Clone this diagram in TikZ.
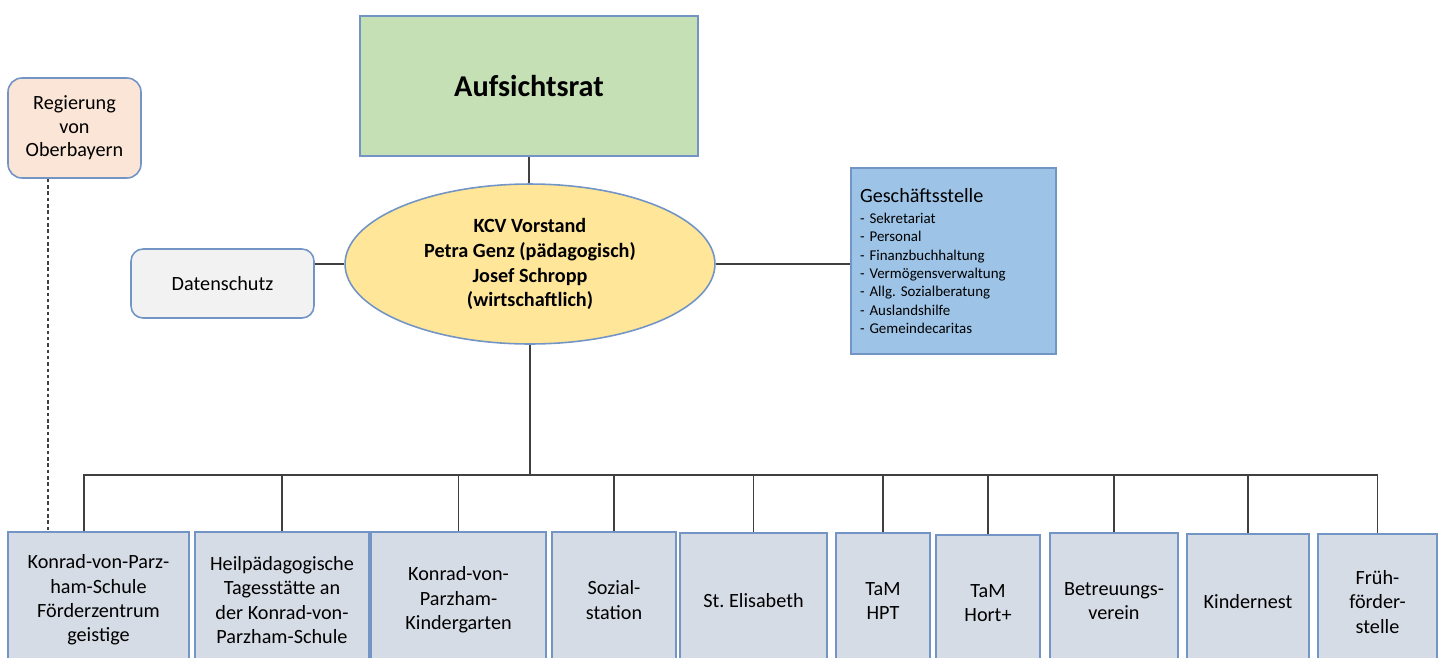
\documentclass[tikz,border=0pt]{standalone}
\usepackage{fontspec}
\setmainfont{Carlito}
\usetikzlibrary{shapes.geometric}
\frenchspacing

\definecolor{rahmen}{HTML}{7295C6}
\definecolor{liniengrau}{HTML}{404040}
\definecolor{gruen}{HTML}{C5E0B4}
\definecolor{pfirsich}{HTML}{FBE5D6}
\definecolor{gelb}{HTML}{FFE699}
\definecolor{hellblau}{HTML}{9DC3E6}
\definecolor{hellgrau}{HTML}{F2F2F2}
\definecolor{einheitblau}{HTML}{D6DCE5}

\begin{document}
\begin{tikzpicture}[x=0.02cm,y=-0.02cm,
    box/.style={draw=rahmen,line width=0.9pt,align=center,inner sep=2pt,
      font=\fontsize{11.5}{13.9}\selectfont},
    einheit/.style={box,fill=einheitblau,minimum height=2.72cm},
    linie/.style={draw=liniengrau,line width=0.8pt}]
  \useasboundingbox (0,0) rectangle (1443,657);
  \clip (0,0) rectangle (1443,657);

  % Leitung
  \node[box,fill=gruen,minimum width=6.76cm,minimum height=2.8cm,
    font=\fontsize{17.2}{20}\selectfont\bfseries] (aufsicht) at (529,86) {Aufsichtsrat};
  \node[box,ellipse,fill=gelb,minimum width=7.4cm,minimum height=3.2cm,inner sep=0pt,
    font=\fontsize{11.5}{14.2}\selectfont\bfseries] (vorstand) at (530,264)
    {KCV Vorstand\\Petra Genz (pädagogisch)\\Josef Schropp\\(wirtschaftlich)};
  \node[box,fill=pfirsich,rounded corners=0.28cm,minimum width=2.66cm,
    minimum height=2cm,font=\fontsize{11.5}{13.4}\selectfont] (regierung) at (74.5,128)
    {Regierung\\von\\Oberbayern};
  \node[box,fill=hellgrau,rounded corners=0.24cm,minimum width=3.66cm,
    minimum height=1.38cm] (datenschutz) at (222.5,283.5) {Datenschutz};
  \node[box,fill=hellblau,align=left,text width=3.74cm,inner xsep=0.18cm,
    minimum height=3.72cm,font=\fontsize{8.5}{10.5}\selectfont] (gs) at (953.5,261)
    {{\fontsize{11.5}{12}\selectfont Geschäftsstelle}\\[1.5pt]
     - Sekretariat\\- Personal\\- Finanzbuchhaltung\\- Vermögensverwaltung\\
     - Allg. Sozialberatung\\- Auslandshilfe\\- Gemeindecaritas};

  % Einrichtungen
  \node[einheit,minimum width=3.62cm] (k1) at (98.5,600)
    {Konrad-von-Parz-\\ham-Schule\\Förderzentrum\\geistige};
  \node[einheit,minimum width=3.48cm] (k2) at (282,600)
    {Heilpädagogische\\Tagesstätte an\\der Konrad-von-\\Parzham-Schule};
  \node[einheit,minimum width=3.5cm] (k3) at (458.5,600)
    {Konrad-von-\\Parzham-\\Kindergarten};
  \node[einheit,minimum width=2.48cm] (k4) at (614,600) {Sozial-\\station};
  \node[einheit,minimum width=2.94cm] (k5) at (753.5,601) {St. Elisabeth};
  \node[einheit,minimum width=1.88cm] (k6) at (883,601) {TaM\\HPT};
  \node[einheit,minimum width=2.08cm] (k7) at (988,603) {TaM\\Hort+};
  \node[einheit,minimum width=2.56cm] (k8) at (1114,601) {Betreuungs-\\verein};
  \node[einheit,minimum width=2.44cm] (k9) at (1248,602) {Kindernest};
  \node[einheit,minimum width=2.38cm] (k10) at (1377.5,602) {Früh-\\förder-\\stelle};

  % Verbindungen
  \coordinate (bus) at (535,475);
  \coordinate (t1) at ([xshift=-0.29cm]k1.north);
  \coordinate (d1) at ([xshift=-0.53cm]regierung.south);
  \draw[linie] (aufsicht.south) -- (aufsicht.south |- vorstand.north);
  \draw[linie] (vorstand.west) -- (vorstand.west -| datenschutz.east);
  \draw[linie] (vorstand.east) -- (vorstand.east -| gs.west);
  \draw[linie] (vorstand.south) -- (vorstand.south |- bus);
  \draw[linie] (t1) -- (t1 |- bus) -- (k10.north |- bus);
  \foreach \k in {k2,k3,k4,k5,k6,k7,k8,k9,k10}
    \draw[linie] (\k.north) -- (\k.north |- bus);
  \draw[linie,dash pattern=on 2pt off 1.6pt] (d1) -- (d1 |- k1.north);
\end{tikzpicture}
\end{document}
